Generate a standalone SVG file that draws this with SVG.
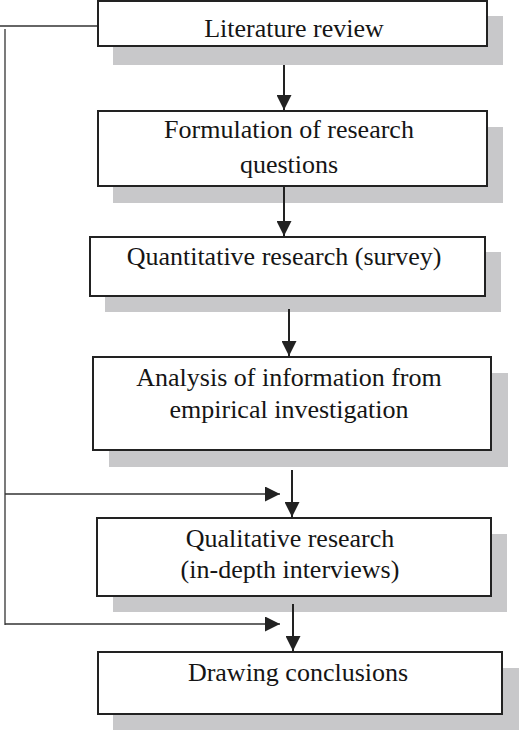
<svg xmlns="http://www.w3.org/2000/svg" width="520" height="731" viewBox="0 0 520 731">
<style>
.shadow{fill:#c8c8ca;stroke:none}
.box{fill:#fff;stroke:#222;stroke-width:2}
.lbl{font-family:"Liberation Serif","Times New Roman",serif;font-size:26px;fill:#151515;text-anchor:middle}
.conn{stroke:#222;stroke-width:2;fill:none}
.thin{stroke:#333;stroke-width:1.3;fill:none}
</style>
<defs>
<marker id="arr" markerUnits="userSpaceOnUse" markerWidth="16" markerHeight="15" viewBox="0 0 16 15" refX="15" refY="7.5" orient="auto">
<path d="M0,0 L15,7.5 L0,15 Z" fill="#222"/>
</marker>
</defs>
<rect width="520" height="731" fill="#fff"/>
<g id="n1">
<rect class="shadow" x="113" y="16" width="390" height="49"/>
<rect class="box" x="98" y="1" width="389" height="45"/>
<text class="lbl" x="294" y="37">Literature review</text>
</g>
<g id="n2">
<rect class="shadow" x="113" y="127" width="390" height="76"/>
<rect class="box" x="98" y="111" width="389" height="75"/>
<text class="lbl" x="289" y="138">Formulation of research</text>
<text class="lbl" x="289" y="173">questions</text>
</g>
<g id="n3">
<rect class="shadow" x="105" y="252" width="396" height="60"/>
<rect class="box" x="90" y="237" width="395" height="59"/>
<text class="lbl" x="284" y="265">Quantitative research (survey)</text>
</g>
<g id="n4">
<rect class="shadow" x="109" y="373" width="399" height="94"/>
<rect class="box" x="93" y="357" width="398" height="93"/>
<text class="lbl" x="289" y="386">Analysis of information from</text>
<text class="lbl" x="289" y="418">empirical investigation</text>
</g>
<g id="n5">
<rect class="shadow" x="113" y="534" width="394" height="78"/>
<rect class="box" x="97" y="518" width="394" height="78"/>
<text class="lbl" x="290" y="547">Qualitative research</text>
<text class="lbl" x="290" y="578">(in-depth interviews)</text>
</g>
<g id="n6">
<rect class="shadow" x="113" y="668" width="406" height="62"/>
<rect class="box" x="98" y="652" width="404" height="62"/>
<text class="lbl" x="298" y="681">Drawing conclusions</text>
</g>
<g id="connectors">
<line class="conn" x1="284" y1="65" x2="284" y2="110" marker-end="url(#arr)"/>
<line class="conn" x1="284" y1="187" x2="284" y2="236" marker-end="url(#arr)"/>
<line class="conn" x1="289" y1="309" x2="289" y2="356" marker-end="url(#arr)"/>
<line class="conn" x1="292" y1="470" x2="292" y2="517" marker-end="url(#arr)"/>
<line class="conn" x1="293" y1="604" x2="293" y2="651" marker-end="url(#arr)"/>
<line class="thin" x1="0" y1="26" x2="97" y2="26"/>
<line class="thin" x1="5" y1="29" x2="5" y2="625"/>
<line class="thin" x1="5" y1="494" x2="280" y2="494" marker-end="url(#arr)"/>
<line class="thin" x1="5" y1="624" x2="280" y2="624" marker-end="url(#arr)"/>
</g>
</svg>
